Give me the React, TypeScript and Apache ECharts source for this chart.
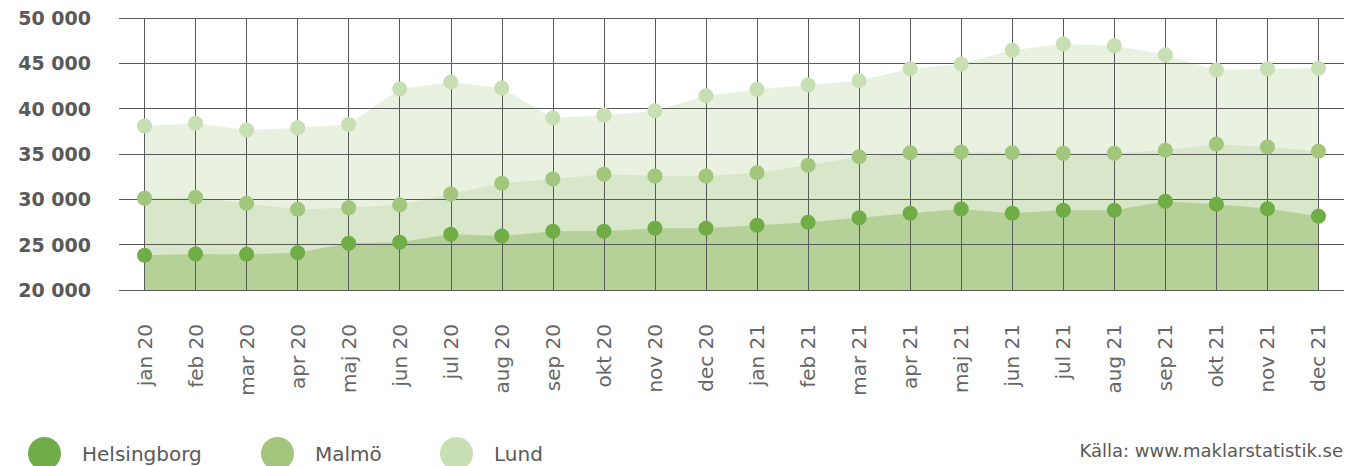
import React, { useEffect, useRef } from "react";
import * as echarts from "echarts";

const months = [
  "jan 20", "feb 20", "mar 20", "apr 20", "maj 20", "jun 20", "jul 20", "aug 20",
  "sep 20", "okt 20", "nov 20", "dec 20", "jan 21", "feb 21", "mar 21", "apr 21",
  "maj 21", "jun 21", "jul 21", "aug 21", "sep 21", "okt 21", "nov 21", "dec 21",
];

const helsingborg = [
  23830, 23970, 23940, 24120, 25150, 25260, 26140, 25960, 26470, 26470, 26800, 26800,
  27130, 27470, 27980, 28460, 28930, 28460, 28790, 28790, 29780, 29450, 28970, 28130,
];

const malmo = [
  30110, 30220, 29560, 28900, 29080, 29400, 30590, 31770, 32240, 32760, 32570, 32570,
  32940, 33750, 34700, 35150, 35220, 35150, 35080, 35080, 35410, 36100, 35780, 35300,
];

const lund = [
  38090, 38400, 37650, 37900, 38250, 42170, 42950, 42280, 38960, 39270, 39780, 41430,
  42140, 42610, 43090, 44410, 44930, 46440, 47130, 46950, 45950, 44270, 44410, 44450,
];

const seriesNames = ["Helsingborg", "Malmö", "Lund"];
const dotColors = ["#70AD47", "#A1C67C", "#C8DFB3"];
const areaColors = ["#B5D198", "#D8E6C9", "#E9F1E0"];
const seriesData = [helsingborg, malmo, lund];

const yMin = 20000;
const yMax = 50000;
const yStep = 5000;

const sourceText = "Källa: www.maklarstatistik.se";

const legendLefts = [23, 256, 435];

export default function App() {
  const ref = useRef<HTMLDivElement>(null);

  useEffect(() => {
    if (!ref.current) return;
    const chart = echarts.init(ref.current, null, { renderer: "svg" });

    const order = [2, 1, 0]; // draw Lund behind, Helsingborg in front
    const areaSeries = order.map((i) => ({
      name: seriesNames[i],
      type: "line",
      data: seriesData[i],
      z: 1 + (2 - i) * 0.1,
      symbol: "none",
      showSymbol: false,
      itemStyle: { color: dotColors[i] },
      lineStyle: { width: 0, color: areaColors[i] },
      areaStyle: { color: areaColors[i], opacity: 1, origin: "start" },
      silent: true,
    }));
    const dotSeries = order.map((i) => ({
      name: seriesNames[i],
      type: "scatter",
      data: seriesData[i],
      z: 5,
      symbol: "circle",
      symbolSize: 15,
      itemStyle: { color: dotColors[i], opacity: 1 },
      silent: true,
    }));

    const legends = seriesNames.map((n, i) => ({
      data: [n],
      left: legendLefts[i],
      top: 432,
      orient: "horizontal",
      icon: "circle",
      itemWidth: 33,
      itemHeight: 33,
      selectedMode: false,
      textStyle: {
        fontFamily: "DejaVu Sans",
        fontSize: 20,
        color: "#595959",
        padding: [0, 0, 2, 16],
      },
    }));

    chart.setOption({
      animation: false,
      backgroundColor: "#ffffff",
      grid: { left: 119, right: 17, top: 18, bottom: 176, containLabel: false },
      legend: legends,
      xAxis: {
        type: "category",
        data: months,
        boundaryGap: true,
        z: 3,
        axisLine: { show: false },
        axisTick: { show: false },
        axisLabel: {
          rotate: 90,
          margin: 34,
          interval: 0,
          fontFamily: "DejaVu Sans",
          fontSize: 20,
          color: "#666666",
          verticalAlign: "middle",
        },
        splitLine: {
          show: true,
          alignWithLabel: true,
          lineStyle: { color: "#5a5a5a", width: 1 },
        },
      },
      yAxis: {
        type: "value",
        min: yMin,
        max: yMax,
        interval: yStep,
        z: 3,
        axisLine: { show: false },
        axisTick: { show: false },
        axisLabel: {
          margin: 28,
          fontFamily: "DejaVu Sans",
          fontWeight: "bold",
          fontSize: 19,
          color: "#595959",
          formatter: (v: number) => `${Math.round(v / 1000)} 000`,
        },
        splitLine: {
          show: true,
          lineStyle: { color: "#5a5a5a", width: 1 },
        },
      },
      graphic: [
        {
          type: "text",
          right: 18,
          top: 441,
          style: {
            text: sourceText,
            fontFamily: "DejaVu Sans",
            fontSize: 18,
            fill: "#595959",
          },
        },
      ],
      series: [...areaSeries, ...dotSeries],
    });

    return () => chart.dispose();
  }, []);

  return (
    <div
      ref={ref}
      style={{ position: "fixed", left: 0, top: 0, width: 1361, height: 466 }}
    />
  );
}
